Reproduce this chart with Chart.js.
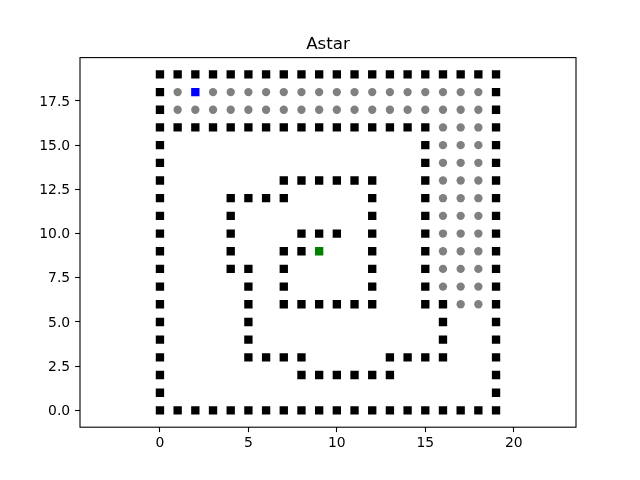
<!DOCTYPE html>
<html>
<head>
<meta charset="utf-8">
<script src="https://cdn.jsdelivr.net/npm/chart.js@4/dist/chart.umd.min.js"></script>
<style>
  html, body { margin: 0; padding: 0; background: #fff; }
  #c { display: block; }
</style>
</head>
<body>
<canvas id="c" width="640" height="480"></canvas>
<script>
const chartTitle = "Astar";
const xTickValues = [0, 5, 10, 15, 20];
const yTickValues = [0, 2.5, 5, 7.5, 10, 12.5, 15, 17.5];
const xRange = [-4.52, 23.52];
const yRange = [-0.95, 19.95];

// wall cells as [x, y]
const walls = [
  [0,19],[1,19],[2,19],[3,19],[4,19],[5,19],[6,19],[7,19],[8,19],[9,19],[10,19],[11,19],[12,19],[13,19],[14,19],[15,19],[16,19],[17,19],[18,19],[19,19],
  [0,18],[19,18],
  [0,17],[19,17],
  [0,16],[1,16],[2,16],[3,16],[4,16],[5,16],[6,16],[7,16],[8,16],[9,16],[10,16],[11,16],[12,16],[13,16],[14,16],[15,16],[19,16],
  [0,15],[15,15],[19,15],
  [0,14],[15,14],[19,14],
  [0,13],[7,13],[8,13],[9,13],[10,13],[11,13],[12,13],[15,13],[19,13],
  [0,12],[4,12],[5,12],[6,12],[7,12],[12,12],[15,12],[19,12],
  [0,11],[4,11],[12,11],[15,11],[19,11],
  [0,10],[4,10],[8,10],[9,10],[10,10],[12,10],[15,10],[19,10],
  [0,9],[4,9],[7,9],[8,9],[12,9],[15,9],[19,9],
  [0,8],[4,8],[5,8],[7,8],[12,8],[15,8],[19,8],
  [0,7],[5,7],[7,7],[12,7],[15,7],[19,7],
  [0,6],[5,6],[7,6],[8,6],[9,6],[10,6],[11,6],[12,6],[15,6],[16,6],[19,6],
  [0,5],[5,5],[16,5],[19,5],
  [0,4],[5,4],[16,4],[19,4],
  [0,3],[5,3],[6,3],[7,3],[8,3],[13,3],[14,3],[15,3],[16,3],[19,3],
  [0,2],[8,2],[9,2],[10,2],[11,2],[12,2],[13,2],[19,2],
  [0,1],[19,1],
  [0,0],[1,0],[2,0],[3,0],[4,0],[5,0],[6,0],[7,0],[8,0],[9,0],[10,0],[11,0],[12,0],[13,0],[14,0],[15,0],[16,0],[17,0],[18,0],[19,0]
];

// visited cells as [x, y]
const visited = [
  [1,18],[3,18],[4,18],[5,18],[6,18],[7,18],[8,18],[9,18],[10,18],[11,18],[12,18],[13,18],[14,18],[15,18],[16,18],[17,18],[18,18],
  [1,17],[2,17],[3,17],[4,17],[5,17],[6,17],[7,17],[8,17],[9,17],[10,17],[11,17],[12,17],[13,17],[14,17],[15,17],[16,17],[17,17],[18,17],
  [16,16],[17,16],[18,16],
  [16,15],[17,15],[18,15],
  [16,14],[17,14],[18,14],
  [16,13],[17,13],[18,13],
  [16,12],[17,12],[18,12],
  [16,11],[17,11],[18,11],
  [16,10],[17,10],[18,10],
  [16,9],[17,9],[18,9],
  [16,8],[17,8],[18,8],
  [16,7],[17,7],[18,7],
  [17,6],[18,6]
];

const startCell = [[2,18]];
const goalCell = [[9,9]];

const toPts = arr => arr.map(p => ({x: p[0], y: p[1]}));

const FONT = "'DejaVu Sans', sans-serif";

const framePlugin = {
  id: 'frame',
  afterDraw(chart) {
    const {ctx, chartArea: a} = chart;
    ctx.save();
    ctx.strokeStyle = '#000';
    ctx.lineWidth = 1.1;
    ctx.strokeRect(a.left, a.top, a.right - a.left, a.bottom - a.top);
    ctx.fillStyle = '#000';
    ctx.font = "16.7px " + FONT;
    ctx.textAlign = 'center';
    ctx.textBaseline = 'alphabetic';
    ctx.fillText(chartTitle, (a.left + a.right) / 2, a.top - 8.5);
    ctx.restore();
  }
};

const whiteBg = {
  id: 'whiteBg',
  beforeDraw(chart) {
    const ctx = chart.ctx;
    ctx.save();
    ctx.fillStyle = '#fff';
    ctx.fillRect(0, 0, chart.width, chart.height);
    ctx.restore();
  }
};

const SQ = 5.9;   // rect radius -> ~8.3px side
const CR = 4.17;  // circle radius

new Chart(document.getElementById('c'), {
  type: 'scatter',
  data: {
    datasets: [
      { label: 'walls', data: toPts(walls), pointStyle: 'rect', pointRadius: SQ,
        backgroundColor: '#000000', borderColor: '#000000', borderWidth: 0 },
      { label: 'visited', data: toPts(visited), pointStyle: 'circle', pointRadius: CR,
        backgroundColor: '#808080', borderColor: '#808080', borderWidth: 0 },
      { label: 'start', data: toPts(startCell), pointStyle: 'rect', pointRadius: SQ,
        backgroundColor: '#0000ff', borderColor: '#0000ff', borderWidth: 0 },
      { label: 'goal', data: toPts(goalCell), pointStyle: 'rect', pointRadius: SQ,
        backgroundColor: '#008000', borderColor: '#008000', borderWidth: 0 }
    ]
  },
  options: {
    responsive: false,
    animation: false,
    events: [],
    layout: { padding: { left: 0, right: 64, top: 57.6, bottom: 0 } },
    plugins: {
      legend: { display: false },
      title: { display: false },
      tooltip: { enabled: false }
    },
    scales: {
      x: {
        type: 'linear',
        min: xRange[0], max: xRange[1],
        afterBuildTicks: s => { s.ticks = xTickValues.map(v => ({value: v})); },
        afterFit: s => { s.height = 52.8; },
        grid: { drawOnChartArea: false, drawTicks: true, tickLength: 4.9, tickColor: '#000', tickWidth: 1.1 },
        border: { display: false },
        ticks: { color: '#000', font: { family: FONT, size: 13.9 }, padding: 2.5,
                 maxRotation: 0, autoSkip: false, callback: v => String(v) }
      },
      y: {
        type: 'linear',
        min: yRange[0], max: yRange[1],
        afterBuildTicks: s => { s.ticks = yTickValues.map(v => ({value: v})); },
        afterFit: s => { s.width = 80; },
        grid: { drawOnChartArea: false, drawTicks: true, tickLength: 4.9, tickColor: '#000', tickWidth: 1.1 },
        border: { display: false },
        ticks: { color: '#000', font: { family: FONT, size: 13.9 }, padding: 4.9, labelOffset: 1,
                 autoSkip: false, callback: v => Number(v).toFixed(1) }
      }
    }
  },
  plugins: [whiteBg, framePlugin]
});
</script>
</body>
</html>
